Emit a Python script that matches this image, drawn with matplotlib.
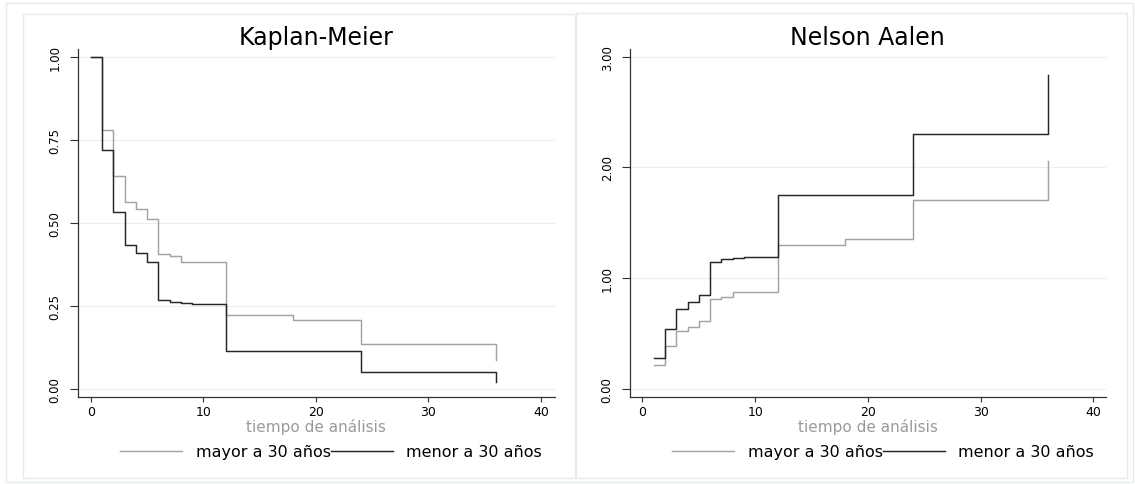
import matplotlib
matplotlib.use("Agg")
import matplotlib.pyplot as plt
from matplotlib.patches import Rectangle

plt.rcParams["font.family"] = ["DejaVu Sans"]

# Kaplan-Meier: supervivencia por grupo de edad
km_t = [0, 1, 2, 3, 4, 5, 6, 7, 8, 9, 12, 18, 24, 36]
km_mayor = [1.0, 0.778, 0.641, 0.562, 0.542, 0.513, 0.406, 0.399, 0.381, 0.381,
            0.222, 0.209, 0.136, 0.087]
km_menor = [1.0, 0.720, 0.534, 0.432, 0.409, 0.381, 0.268, 0.262, 0.258, 0.255,
            0.113, 0.113, 0.050, 0.020]

# Nelson-Aalen: riesgo acumulado
na_t = [1, 2, 3, 4, 5, 6, 7, 8, 9, 12, 18, 24, 36]
na_mayor = [0.217, 0.391, 0.521, 0.557, 0.611, 0.813, 0.833, 0.876, 0.876,
            1.300, 1.354, 1.706, 2.061]
na_menor = [0.277, 0.539, 0.725, 0.782, 0.849, 1.144, 1.171, 1.180, 1.192,
            1.754, 1.754, 2.300, 2.835]

grupos = ["mayor a 30 años", "menor a 30 años"]
x_ticks = [0, 10, 20, 30, 40]
km_yticks = [0.0, 0.25, 0.5, 0.75, 1.0]
na_yticks = [0.0, 1.0, 2.0, 3.0]

GRIS = "#a3a3a3"
NEGRO = "#262626"
REJILLA = "#e8f0f1"
BORDE = "#e3ebed"

W, H = 1135, 485
fig = plt.figure(figsize=(W / 100, H / 100), dpi=100)


def px(x0, y0, x1, y1):
    # caja en pixeles (origen arriba-izquierda) -> fracciones de figura
    return [x0 / W, 1 - y1 / H, (x1 - x0) / W, (y1 - y0) / H]


# marcos claros del grafico combinado
for x0, y0, x1, y1 in [(6, 4, 1133, 483), (23, 15, 575, 479), (576, 14, 1127, 479)]:
    fig.patches.append(Rectangle((x0 / W, 1 - y1 / H), (x1 - x0) / W, (y1 - y0) / H,
                                 transform=fig.transFigure, fill=False,
                                 edgecolor=BORDE, lw=1.0))

paneles = [
    dict(box=(77.5, 50, 554.5, 397.7), t=km_t, y=(km_mayor, km_menor),
         yt=km_yticks, ylim=(-0.023, 1.023), xlim=(-1.19, 41.2),
         title="Kaplan-Meier", leg_x=331),
    dict(box=(629.7, 50, 1105.7, 397.7), t=na_t, y=(na_mayor, na_menor),
         yt=na_yticks, ylim=(-0.069, 3.069), xlim=(-1.13, 41.1),
         title="Nelson Aalen", leg_x=883),
]

for p in paneles:
    ax = fig.add_axes(px(*p["box"]))
    for vals, col in zip(p["y"], (GRIS, NEGRO)):
        ax.step(p["t"], vals, where="post", color=col, lw=1.05)
    ax.set_xlim(*p["xlim"])
    ax.set_ylim(*p["ylim"])
    ax.set_xticks(x_ticks)
    ax.set_yticks(p["yt"])
    ax.set_yticklabels([f"{v:.2f}" for v in p["yt"]], rotation=90, va="center",
                       fontsize=8.5)
    ax.tick_params(axis="x", length=3.6, width=0.8, pad=2.5, labelsize=9,
                   color="#333333")
    ax.tick_params(axis="y", length=5.5, width=0.8, pad=6, color="#333333")
    for v in p["yt"]:
        ax.axhline(v, color=REJILLA, lw=0.9, zorder=0)
    for s in ("top", "right"):
        ax.spines[s].set_visible(False)
    for s in ("left", "bottom"):
        ax.spines[s].set_color("#333333")
        ax.spines[s].set_linewidth(0.9)
    ax.set_title(p["title"], fontsize=17, pad=3)

    x0, _, x1, _ = p["box"]
    fig.text((x0 + x1) / 2 / W, 1 - 432 / H, "tiempo de análisis", color="#9a9a9a",
             fontsize=11, ha="center", va="baseline")
    ax.legend(grupos, loc="center", bbox_to_anchor=(p["leg_x"] / W, 1 - 453 / H),
              bbox_transform=fig.transFigure, ncol=2, frameon=False, fontsize=11.5,
              columnspacing=0.0, handlelength=3.9, handletextpad=0.85, borderpad=0)

fig.savefig("out.png", dpi=100, facecolor="white")
